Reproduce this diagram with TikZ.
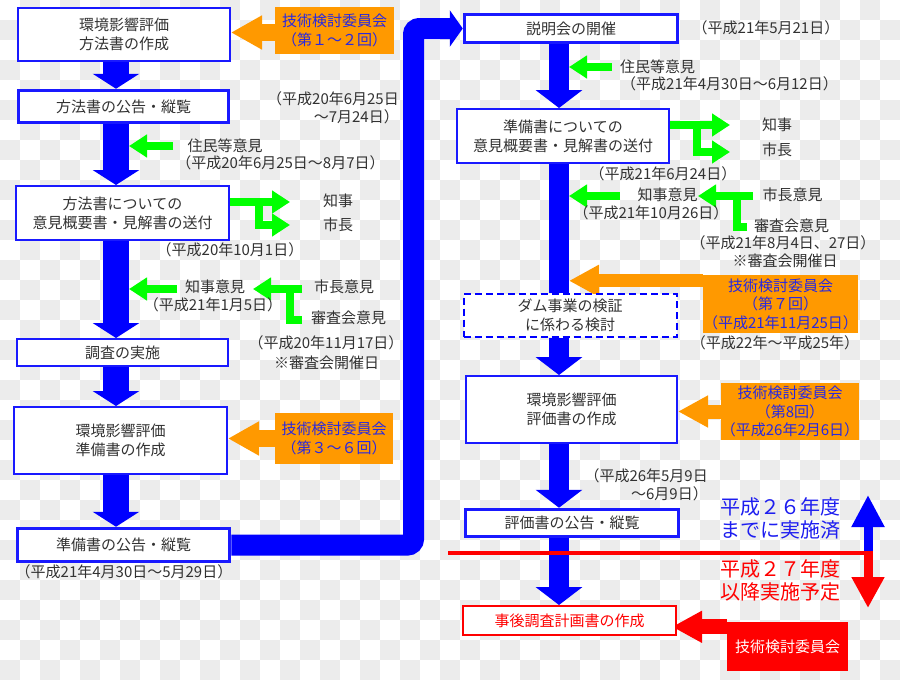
\documentclass[tikz,border=0pt]{standalone}
\usepackage{fontspec}
\setmainfont{Noto Sans CJK JP}
\usetikzlibrary{arrows.meta}
\definecolor{bl}{RGB}{0,0,255}
\definecolor{bbord}{RGB}{25,25,255}
\definecolor{gr}{RGB}{0,255,0}
\definecolor{org}{RGB}{255,153,0}
\definecolor{otext}{RGB}{40,40,225}
\definecolor{rd}{RGB}{255,0,0}
\definecolor{txt}{RGB}{50,50,50}
\definecolor{chk}{RGB}{236,236,236}
\definecolor{btext}{RGB}{30,30,240}
\pgfdeclarelayer{bg}
\pgfdeclarelayer{mid}
\pgfsetlayers{bg,mid,main}
\begin{document}
\begin{tikzpicture}[x=1pt,y=-1pt,
  box/.style={draw=bbord, line width=2pt, fill=white, text=txt, font=\fontsize{15}{19}\selectfont, align=center, inner sep=0pt},
  thickbox/.style={box, line width=3.5pt},
  dbox/.style={box, draw=bl, line width=2pt, dash pattern=on 7pt off 4pt},
  rbox/.style={box, draw=rd, text=rd},
  obox/.style={fill=org, text=otext, font=\fontsize{15}{18.5}\selectfont, align=center, inner sep=0pt},
  redbox/.style={fill=rd, text=white, font=\fontsize{15}{18}\selectfont, align=center, inner sep=0pt},
  lbl/.style={text=txt, font=\fontsize{15}{18}\selectfont, inner sep=0pt},
  downL/.style={draw=bl, line width=26pt, -{Triangle[width=46pt,length=15pt]}},
  downR/.style={draw=bl, line width=20pt, -{Triangle[width=46pt,length=18pt]}},
  shaftR/.style={draw=bl, line width=20pt},
  bigc/.style={draw=bl, line width=21pt, rounded corners=6pt, -{Triangle[width=36pt,length=13pt]}},
  oarrow/.style={draw=org, line width=17pt, -{Triangle[width=32pt,length=31pt]}},
  oarrowthin/.style={draw=org, line width=13pt, -{Triangle[width=30pt,length=30pt]}},
  rarrow/.style={draw=rd, line width=15pt, -{Triangle[width=30pt,length=30pt]}},
  gline/.style={draw=gr, line width=8pt},
  garrow/.style={gline, -{Triangle[width=22pt,length=18pt]}},
  vtext/.style={font=\fontsize{20}{23}\selectfont, align=center, inner sep=0pt}
]
\useasboundingbox (0,0) rectangle (900,680);
\begin{pgfonlayer}{bg}
  \fill[white] (0,0) rectangle (900,680);
  \foreach \i in {0,...,44} {
    \foreach \j in {0,...,33} {
      \pgfmathtruncatemacro{\p}{mod(\i+\j,2)}
      \ifnum\p=1 \fill[chk] (\i*20,\j*20) rectangle ++(20,20); \fi
    }
  }
\end{pgfonlayer}

% ---------- left column boxes ----------
\node[box, minimum width=212pt, minimum height=53pt] (b1) at (124,34.5) {環境影響評価\\方法書の作成};
\node[thickbox, minimum width=210pt, minimum height=32pt] (b2) at (123.5,106.5) {方法書の公告・縦覧};
\node[box, minimum width=213pt, minimum height=54pt] (b3) at (122.5,213) {方法書についての\\意見概要書・見解書の送付};
\node[box, minimum width=211pt, minimum height=27pt] (b4) at (122.5,352.5) {調査の実施};
\node[box, minimum width=213pt, minimum height=67pt] (b5) at (120.5,440.5) {環境影響評価\\準備書の作成};
\node[thickbox, minimum width=212pt, minimum height=33pt] (b6) at (123.5,545) {準備書の公告・縦覧};

% ---------- right column boxes ----------
\node[thickbox, minimum width=213pt, minimum height=28pt] (b7) at (571,28.5) {説明会の開催};
\node[box, minimum width=212pt, minimum height=54pt] (b8) at (563,136) {準備書についての\\意見概要書・見解書の送付};
\node[dbox, minimum width=213pt, minimum height=43pt] (b9d) at (570,315) {ダム事業の検証\\に係わる検討};
\node[box, minimum width=211pt, minimum height=67pt] (b9) at (571.5,409.5) {環境影響評価\\評価書の作成};
\node[thickbox, minimum width=213pt, minimum height=27pt] (b10) at (572,523) {評価書の公告・縦覧};
\node[rbox, minimum width=213pt, minimum height=29pt] (b11) at (569.5,620.5) {事後調査計画書の作成};

% ---------- committee boxes ----------
\node[obox, minimum width=119pt, minimum height=47pt] (o1) at (334.5,30.5) {技術検討委員会\\（第１～２回）};
\node[obox, minimum width=118pt, minimum height=51pt] (o2) at (334,438.5) {技術検討委員会\\（第３～６回）};
\node[obox, minimum width=151pt, minimum height=58pt] (o3) at (780.5,304) {技術検討委員会\\（第７回）\\（平成21年11月25日）};
\node[obox, minimum width=130pt, minimum height=57pt] (o4) at (790,411.5) {技術検討委員会\\（第8回）\\（平成26年2月6日）};
\node[redbox, minimum width=121pt, minimum height=49pt] (o5) at (787.5,646.5) {技術検討委員会};

% ---------- helper coordinates ----------
\coordinate (lx) at (116,0);
\coordinate (lsh) at (129,0);
\coordinate (rx) at (559,0);
\coordinate (rsh) at (569,0);
\coordinate (vx) at (413.5,0);

% ---------- connectors ----------
\begin{pgfonlayer}{mid}
  \draw[downL] (lx |- b1.south) -- (lx |- b2.north);
  \draw[downL] (lx |- b2.south) -- (lx |- b3.north);
  \draw[downL] (lx |- b3.south) -- (lx |- b4.north);
  \draw[downL] (lx |- b4.south) -- (lx |- b5.north);
  \draw[downL] (lx |- b5.south) -- (lx |- b6.north);

  \draw[downR] (rx |- b7.south) -- (rx |- b8.north);
  \draw[shaftR] (rx |- b8.south) -- (rx |- b9d.north);
  \draw[downR] (rx |- b9d.south) -- (rx |- b9.north);
  \draw[downR] (rx |- b9.south) -- (rx |- b10.north);
  \draw[downR] (rx |- b10.south) -- (rx |- b11.north);

  \draw[bigc] (b6.east) -| (vx |- b7.west) -- (b7.west);

  % committee arrows
  \draw[oarrow] ([yshift=-2pt]o1.west) -- ([yshift=-2pt]o1.west -| b1.east);
  \draw[oarrow] (o2.west) -- (o2.west -| b5.east);
  \coordinate (o3s) at ([yshift=-6pt]o3.north west);
  \draw[oarrowthin] (o3s) -- (o3s -| rsh);
  \draw[oarrowthin, line width=14pt] (o4.west) -- (o4.west -| b9.east);
  \coordinate (o5s) at ([yshift=-5pt]o5.north west);
  \draw[rarrow, shorten >=-5pt] (o5s) -- (o5s -| b11.east);

  % green arrows, left
  \coordinate (g1) at (173,146);
  \draw[garrow] (g1) -- (g1 -| lsh);
  \coordinate (k1) at (290,202);
  \coordinate (k2) at (290,225);
  \coordinate (kb) at (258.5,202);
  \draw[garrow] (b3.east |- k1) -- (k1);
  \draw[garrow] ([yshift=4pt]kb) |- (k2);
  \coordinate (g2) at (177,289);
  \draw[garrow] (g2) -- (g2 -| lsh);
  \coordinate (g3) at (302,289);
  \coordinate (g3t) at (253,289);
  \coordinate (g4) at (302,320);
  \coordinate (g4v) at (290,289);
  \draw[garrow] (g3) -- (g3t);
  \draw[gline] (g4) -| ([yshift=-4pt]g4v);

  % green arrows, right
  \coordinate (g5) at (612,67);
  \draw[garrow] (g5) -- (g5 -| rsh);
  \coordinate (k3) at (730,125);
  \coordinate (k4) at (730,152);
  \coordinate (kc) at (697,125);
  \draw[garrow] (b8.east |- k3) -- (k3);
  \draw[garrow] ([yshift=4pt]kc) |- (k4);
  \coordinate (g6) at (620,196);
  \draw[garrow] (g6) -- (g6 -| rsh);
  \coordinate (g7) at (753,196);
  \coordinate (g7t) at (698,196);
  \coordinate (g8) at (747,227);
  \coordinate (g8v) at (737,196);
  \draw[garrow] (g7) -- (g7t);
  \draw[gline] (g8) -| ([yshift=-4pt]g8v);
\end{pgfonlayer}

% ---------- labels, left ----------
\node[lbl, align=right, anchor=east] (d1) at (399,108) {（平成20年6月25日\\～7月24日）};
\node[lbl] (l1) at (225,146) {住民等意見};
\node[lbl] (l2) at (280.5,163) {（平成20年6月25日～8月7日）};
\node[lbl] (l3) at (338,201) {知事};
\node[lbl] (l4) at (338,225) {市長};
\node[lbl] (l5) at (230,250) {（平成20年10月1日）};
\node[lbl] (l6) at (215,287) {知事意見};
\node[lbl] (l7) at (213,305) {（平成21年1月5日）};
\node[lbl] (l8) at (344,287) {市長意見};
\node[lbl] (l9) at (348.5,318) {審査会意見};
\node[lbl] (l10) at (326,343) {（平成20年11月17日）};
\node[lbl] (l11) at (326.5,363) {※審査会開催日};
\node[lbl] (l12) at (124,572) {（平成21年4月30日～5月29日）};

% ---------- labels, right ----------
\node[lbl] (r1) at (766,28) {（平成21年5月21日）};
\node[lbl] (r2) at (657.5,67) {住民等意見};
\node[lbl] (r3) at (729.5,84) {（平成21年4月30日～6月12日）};
\node[lbl] (r4) at (777,125) {知事};
\node[lbl] (r5) at (777,150) {市長};
\node[lbl] (r6) at (663,174) {（平成21年6月24日）};
\node[lbl] (r7) at (667.5,195) {知事意見};
\node[lbl] (r8) at (651,213) {（平成21年10月26日）};
\node[lbl] (r9) at (792.5,195) {市長意見};
\node[lbl] (r10) at (791.5,226) {審査会意見};
\node[lbl] (r11) at (783,243) {（平成21年8月4日、27日）};
\node[lbl] (r12) at (785,261) {※審査会開催日};
\node[lbl] (r13) at (775,343) {（平成22年～平成25年）};
\node[lbl, align=right, anchor=east] (r14) at (708,485) {（平成26年5月9日\\～6月9日）};

\node[vtext, text=btext] (s1) at (780,518.5) {平成２６年度\\までに実施済};
\node[vtext, text=rd] (s2) at (780,580) {平成２７年度\\以降実施予定};

% ---------- period divider ----------
\coordinate (ua) at (868,553);
\coordinate (ut) at (868,495);
\coordinate (dt) at (868,608);
\draw[draw=bl, line width=9pt, -{Triangle[width=31pt,length=32pt]}] (ua) -- (ut);
\draw[draw=rd, line width=9pt, -{Triangle[width=31pt,length=31pt]}] (ua) -- (dt);
\coordinate (ls) at (448,553);
\coordinate (le) at (873,553);
\draw[draw=rd, line width=4pt] (ls) -- (le);
\end{tikzpicture}
\end{document}
